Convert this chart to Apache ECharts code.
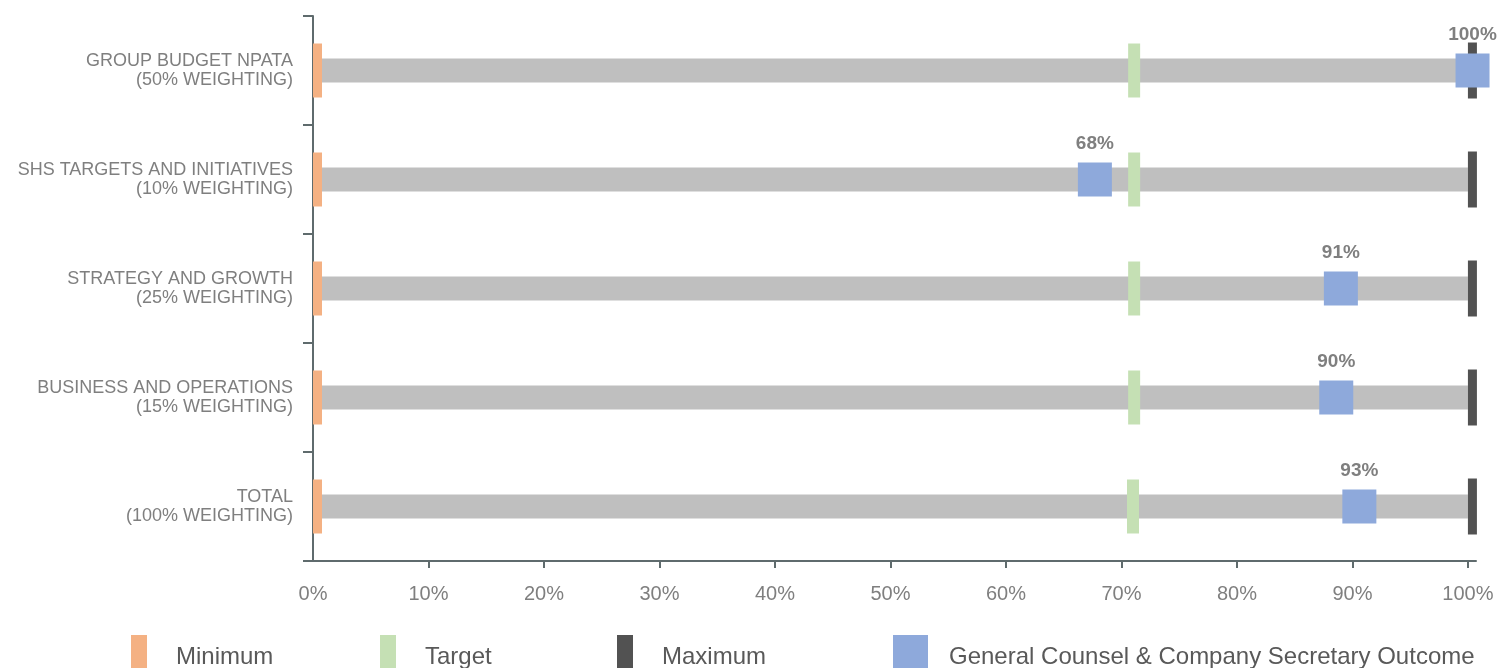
<!DOCTYPE html>
<html>
	<head>
		<meta charset="utf-8">
		<title>Outcome chart</title>
		<script src="https://cdn.jsdelivr.net/npm/echarts@6/dist/echarts.min.js"></script>
		<style>
			html, body { margin:0; padding:0; background:#fff; }
			#chart { width:1502px; height:668px; }
		</style>
	</head>
	<body>
		<div id="chart"></div>
		<script type="text/javascript">
			// data
			var categories = [
				'GROUP BUDGET NPATA\n(50% WEIGHTING)',
				'SHS TARGETS AND INITIATIVES\n(10% WEIGHTING)',
				'STRATEGY AND GROWTH\n(25% WEIGHTING)',
				'BUSINESS AND OPERATIONS\n(15% WEIGHTING)',
				'TOTAL\n(100% WEIGHTING)'
			];
			var minimum = [0, 0, 0, 0, 0];
			var target = [71.1, 71.1, 71.1, 71.1, 71.0];
			var maximum = [100, 100, 100, 100, 100];
			var outcome = [100.4, 67.7, 89.0, 88.6, 90.6];   // marker positions as drawn
			var outcomeLabels = ['100%', '68%', '91%', '90%', '93%'];
			var xTicks = [0, 10, 20, 30, 40, 50, 60, 70, 80, 90, 100];
			var xTickMarks = [10, 20, 30, 40, 50, 60, 70, 80, 90, 100];

			var FONT = '"Liberation Sans", Arial, sans-serif';
			var AXIS = '#5f6b6d';

			function pairs(vals) {
				return vals.map(function (v, i) { return [v, i]; });
			}

			// thin vertical marker (min / target / max)
			function marker(w, h, anchor) {
				return function (params, api) {
					var c = api.coord([api.value(0), api.value(1)]);
					var x = anchor === 'left' ? c[0] : c[0] - w / 2;
					return {
						type: 'rect',
						shape: {x: x, y: c[1] - h / 2, width: w, height: h},
						style: {fill: api.visual('color')}
					};
				};
			}

			// grey track from minimum to maximum
			function track(params, api) {
				var a = api.coord([api.value(0), api.value(2)]);
				var b = api.coord([api.value(1), api.value(2)]);
				return {
					type: 'rect',
					shape: {x: a[0], y: a[1] - 12, width: b[0] - a[0], height: 24},
					style: {fill: '#bfbfbf'}
				};
			}

			var trackData = categories.map(function (c, i) { return [minimum[i], maximum[i], i]; });

			function legendItem(name, left, w) {
				return {
					data: [name],
					left: left,
					top: 635,
					padding: 0,
					itemWidth: w,
					itemHeight: 44,
					icon: 'rect',
					selectedMode: false,
					textStyle: {color: '#595959', fontSize: 24, fontFamily: FONT, padding: [0, 0, 0, name.indexOf('General') === 0 ? 16 : 24]}
				};
			}

			var myChart = echarts.init(document.getElementById('chart'));
			myChart.setOption({
				animation: false,
				grid: {left: 313, right: 26, top: 16, bottom: 107},
				legend: [
					legendItem('Minimum', 131, 16),
					legendItem('Target', 380, 16),
					legendItem('Maximum', 617, 16),
					legendItem('General Counsel & Company Secretary Outcome', 893, 35)
				],
				xAxis: {
					type: 'value',
					min: 0,
					max: 100.7,
					splitLine: {show: false},
					axisLine: {show: true, lineStyle: {color: AXIS, width: 2}},
					axisTick: {show: true, customValues: xTickMarks, length: 7, lineStyle: {color: AXIS, width: 2}},
					axisLabel: {
						customValues: xTicks,
						formatter: '{value}%',
						color: '#7f7f7f',
						fontSize: 20,
						fontFamily: FONT,
						margin: 23
					}
				},
				yAxis: {
					type: 'category',
					data: categories,
					inverse: true,
					axisLine: {show: true, lineStyle: {color: AXIS, width: 2}},
					axisTick: {show: true, length: 10, lineStyle: {color: AXIS, width: 2}},
					axisLabel: {
						color: '#7f7f7f',
						fontSize: 18,
						lineHeight: 19,
						fontFamily: FONT,
						margin: 20,
						align: 'right'
					}
				},
				series: [
					{
						name: 'track',
						type: 'custom',
						renderItem: track,
						encode: {x: [0, 1], y: 2},
						data: trackData,
						z: 1
					},
					{
						name: 'Minimum',
						type: 'custom',
						renderItem: marker(9, 54, 'left'),
						encode: {x: 0, y: 1},
						itemStyle: {color: '#f4b183'},
						data: pairs(minimum),
						z: 2
					},
					{
						name: 'Target',
						type: 'custom',
						renderItem: marker(12, 54, 'center'),
						encode: {x: 0, y: 1},
						itemStyle: {color: '#c5e0b4'},
						data: pairs(target),
						z: 2
					},
					{
						name: 'Maximum',
						type: 'custom',
						renderItem: marker(9, 56, 'left'),
						encode: {x: 0, y: 1},
						itemStyle: {color: '#525252'},
						data: pairs(maximum),
						z: 2
					},
					{
						name: 'General Counsel & Company Secretary Outcome',
						type: 'scatter',
						symbol: 'rect',
						symbolSize: 34,
						itemStyle: {color: '#8ea9db', opacity: 1},
						data: pairs(outcome),
						z: 3,
						label: {
							show: true,
							position: 'top',
							distance: 9,
							color: '#7f7f7f',
							fontSize: 19,
							fontWeight: 'bold',
							fontFamily: FONT,
							formatter: function (p) { return outcomeLabels[p.dataIndex]; }
						}
					}
				]
			});
		</script>
	</body>
</html>
